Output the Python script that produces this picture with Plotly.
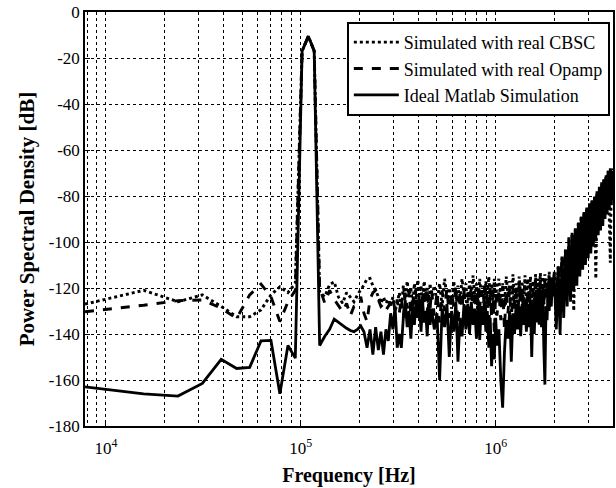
import plotly.graph_objects as go

# FFT bin width of the spectrum (Hz)
BIN_HZ = 7812.5

bins = [
    1, 2, 3, 4, 5, 6, 7, 8, 9, 10, 11, 12, 13, 14, 15, 16, 17, 18, 19, 20,
    21, 22, 23, 24, 25, 26, 27, 28, 29, 30, 31, 32, 33, 34, 35, 36, 37, 38, 39, 40,
    41, 42, 43, 44, 45, 46, 47, 48, 49, 50, 51, 52, 53, 54, 55, 56, 57, 58, 59, 60,
    62, 64, 66, 68, 70, 72, 74, 76, 78, 80, 82, 84, 86, 88, 90, 92, 94, 96, 98, 100,
    102, 104, 106, 108, 110, 112, 114, 116, 118, 120, 122, 124, 126, 128, 130,
    133, 136, 139, 142, 145, 148, 151, 154, 157, 160, 163, 166, 169, 172, 175, 178,
    181, 184, 187, 190, 193, 196, 199, 202, 205, 208, 211, 214, 217, 220, 223, 226,
    229, 232, 235, 238, 241, 244, 247, 250,
    256, 262, 268, 274, 280, 286, 292, 298, 304, 310, 316, 322, 328, 334, 340, 346,
    352, 358, 364, 370, 376, 382, 388, 394, 400, 406, 412, 418, 424, 430, 436, 442,
    448, 454, 460, 466, 472, 478, 484, 490, 496, 502, 508, 512,
]
freq_hz = [b * BIN_HZ for b in bins]

psd_cbsc = [
    -127, -121, -126, -123, -128, -132.5, -132.5, -129.5, -123, -119.5, -122, -118, -17, -10.5, -17, -122,
    -123.8, -118.5, -117.3, -124, -126.6, -122, -124, -126, -123, -121, -118.7, -116, -115.8, -119, -121,
    -123.8, -126.6, -124, -126.6, -125, -128, -124, -130, -127,
    -122, -129, -119, -126, -117, -124, -120, -128, -118, -125, -116.5, -123, -119, -127, -117, -124,
    -120, -129, -118, -125,
    -119, -126, -118, -128, -116, -124, -120, -129, -117, -125, -119, -127, -116, -123, -118, -128,
    -117, -125, -114.5, -124, -118, -127, -116, -123, -119, -128, -117, -125, -115, -124, -118, -128,
    -116, -124, -119,
    -116, -126, -118, -128, -115, -124, -117, -130, -114, -125, -118, -127, -115, -123, -117, -128,
    -114.5, -124, -116, -126, -115, -125, -117, -128, -114, -124, -116, -126, -113.5, -123, -115, -127,
    -114, -124, -116, -126, -113, -124, -115, -122,
    -114, -124, -110, -122, -107, -120, -103, -118, -100, -114, -97, -130, -95, -112, -91, -108,
    -89, -105, -87, -103, -85, -101, -84, -99, -82, -97, -80, -116, -79, -95, -77, -92,
    -75, -90, -73, -88, -71, -86, -69, -84, -109, -70, -82, -68,
]

psd_opamp = [
    -130.3, -127.5, -125.5, -125.2, -128.8, -133.2, -123, -118.3, -123.8, -134.6, -126, -121, -17, -10.5, -17, -120,
    -126.6, -121, -125, -128, -130.3, -126.7, -132, -128, -127.4, -123.8, -131, -134.6, -125, -122, -121,
    -125, -128, -127, -129.6, -128, -126.6, -124, -130, -125,
    -131, -124, -133, -122, -129, -121, -132, -123, -127, -120, -130, -122, -134, -121, -128, -120,
    -131, -123, -129, -121,
    -132, -122, -135, -121, -130, -120, -133, -122, -128, -119, -136, -121, -129, -120, -134, -122,
    -130, -119, -132, -121, -137, -120, -129, -121, -135, -119, -131, -122, -138, -120, -133, -121,
    -140, -122, -132,
    -121, -134, -119, -138, -121, -131, -120, -135, -119, -130, -121, -137, -118, -131, -120, -134,
    -119, -130, -121, -136, -118, -132, -120, -129, -117, -133, -119, -128, -117, -131, -118, -127,
    -116, -130, -117, -126, -115, -128, -116, -125,
    -113, -130, -111, -128, -106, -124, -103, -121, -98, -117, -96, -114, -94, -111, -91, -107,
    -89, -104, -87, -102, -85, -100, -83, -98, -81, -96, -80, -94, -78, -92, -76, -90,
    -74, -88, -72, -86, -70, -85, -68, -83, -67, -82, -69, -78,
]

psd_ideal = [
    -163, -166, -167, -161.5, -151, -155, -154.5, -143, -142.8, -166, -145, -150.5, -17, -10.5, -17, -145,
    -141, -138, -133.5, -135, -136.5, -137.5, -138.5, -139, -138, -136.5, -139, -146, -138, -149, -137,
    -147, -139, -149, -138, -143, -131, -138, -128, -146,
    -140, -146, -133, -126, -137, -130, -142, -128, -136, -125, -133, -127, -139, -126, -135, -130,
    -141, -127, -136, -129,
    -138, -131, -160, -129, -137, -127, -150, -130, -139, -126, -152, -133, -141, -127, -138, -128,
    -140, -126, -136, -129, -142, -127, -142.6, -128, -136, -126, -139, -130, -146, -133, -154, -140,
    -151, -133, -145,
    -138, -160, -172, -148, -134, -142, -130, -152, -131, -140, -127, -138, -128, -141, -127, -136,
    -126, -139, -127, -137, -125, -150, -128, -140, -124, -135, -123, -136, -122, -137, -121, -145,
    -162, -128, -134, -119, -130, -117, -128, -116,
    -116, -138, -112, -140, -109, -133, -104, -128, -99, -126, -97, -121, -95, -119, -92, -115,
    -89, -112, -88, -110, -86, -107, -84, -105, -83, -102, -81, -99, -79, -97, -77, -95,
    -75, -93, -73, -90, -71, -88, -69, -86, -68, -84, -69, -80,
]

y_ticks = [0, -20, -40, -60, -80, -100, -120, -140, -160, -180]
x_ticks = [1e4, 1e5, 1e6]
x_ticktext = ["10<sup>4</sup>", "10<sup>5</sup>", "10<sup>6</sup>"]
x_minor = [8e3, 9e3, 2e4, 3e4, 4e4, 5e4, 6e4, 7e4, 8e4, 9e4,
           2e5, 3e5, 4e5, 5e5, 6e5, 7e5, 8e5, 9e5, 2e6, 3e6, 4e6]

FONT = "Liberation Serif, Times New Roman, serif"

fig = go.Figure()

fig.add_trace(go.Scatter(
    x=freq_hz, y=psd_cbsc, mode="lines", name="Simulated with real CBSC",
    line=dict(color="black", width=2.9, dash="dot")
))
fig.add_trace(go.Scatter(
    x=freq_hz, y=psd_opamp, mode="lines", name="Simulated with real Opamp",
    line=dict(color="black", width=2.9, dash="dash")
))
fig.add_trace(go.Scatter(
    x=freq_hz, y=psd_ideal, mode="lines", name="Ideal Matlab Simulation",
    line=dict(color="black", width=2.8)
))

fig.update_layout(
    width=616,
    height=488,
    margin=dict(l=85, r=1, t=12, b=62),
    paper_bgcolor="white",
    plot_bgcolor="white",
    font=dict(family=FONT, size=16, color="black"),
    showlegend=True,
    legend=dict(
        x=0.994, y=0.976, xanchor="right", yanchor="top",
        bgcolor="white", bordercolor="black", borderwidth=2,
        font=dict(family=FONT, size=18, color="black"),
        tracegroupgap=0, itemwidth=45,
    ),
)

fig.update_xaxes(
    type="log",
    range=[3.8928, 6.6021],
    tickmode="array",
    tickvals=x_ticks,
    ticktext=x_ticktext,
    tickfont=dict(family=FONT, size=17),
    ticklabelstandoff=6,
    ticks="inside", ticklen=5, tickcolor="black",
    showgrid=True, gridcolor="black", gridwidth=1, griddash="dot",
    minor=dict(tickvals=x_minor, showgrid=True, gridcolor="black",
               gridwidth=1, griddash="dot", ticks=""),
    showline=True, linecolor="black", linewidth=1.5, mirror=True,
    zeroline=False,
    title=dict(text="<b>Frequency [Hz]</b>", font=dict(family=FONT, size=20), standoff=11),
)

fig.update_yaxes(
    range=[-180, 0],
    tickmode="array",
    tickvals=y_ticks,
    ticktext=[str(v) for v in y_ticks],
    tickfont=dict(family=FONT, size=17),
    ticklabeloverflow="allow",
    ticks="inside", ticklen=5, tickcolor="black",
    showgrid=True, gridcolor="black", gridwidth=1, griddash="dot",
    showline=True, linecolor="black", linewidth=1.5, mirror=True,
    zeroline=False,
    title=dict(text="<b>Power Spectral Density [dB]</b>", font=dict(family=FONT, size=21), standoff=8),
)

# drop the default body margin so the 616x488 figure fills the window exactly
fig.write_html(
    "out.html",
    config={"displayModeBar": False},
    post_script="document.body.style.margin='0';document.body.style.overflow='hidden';",
)
